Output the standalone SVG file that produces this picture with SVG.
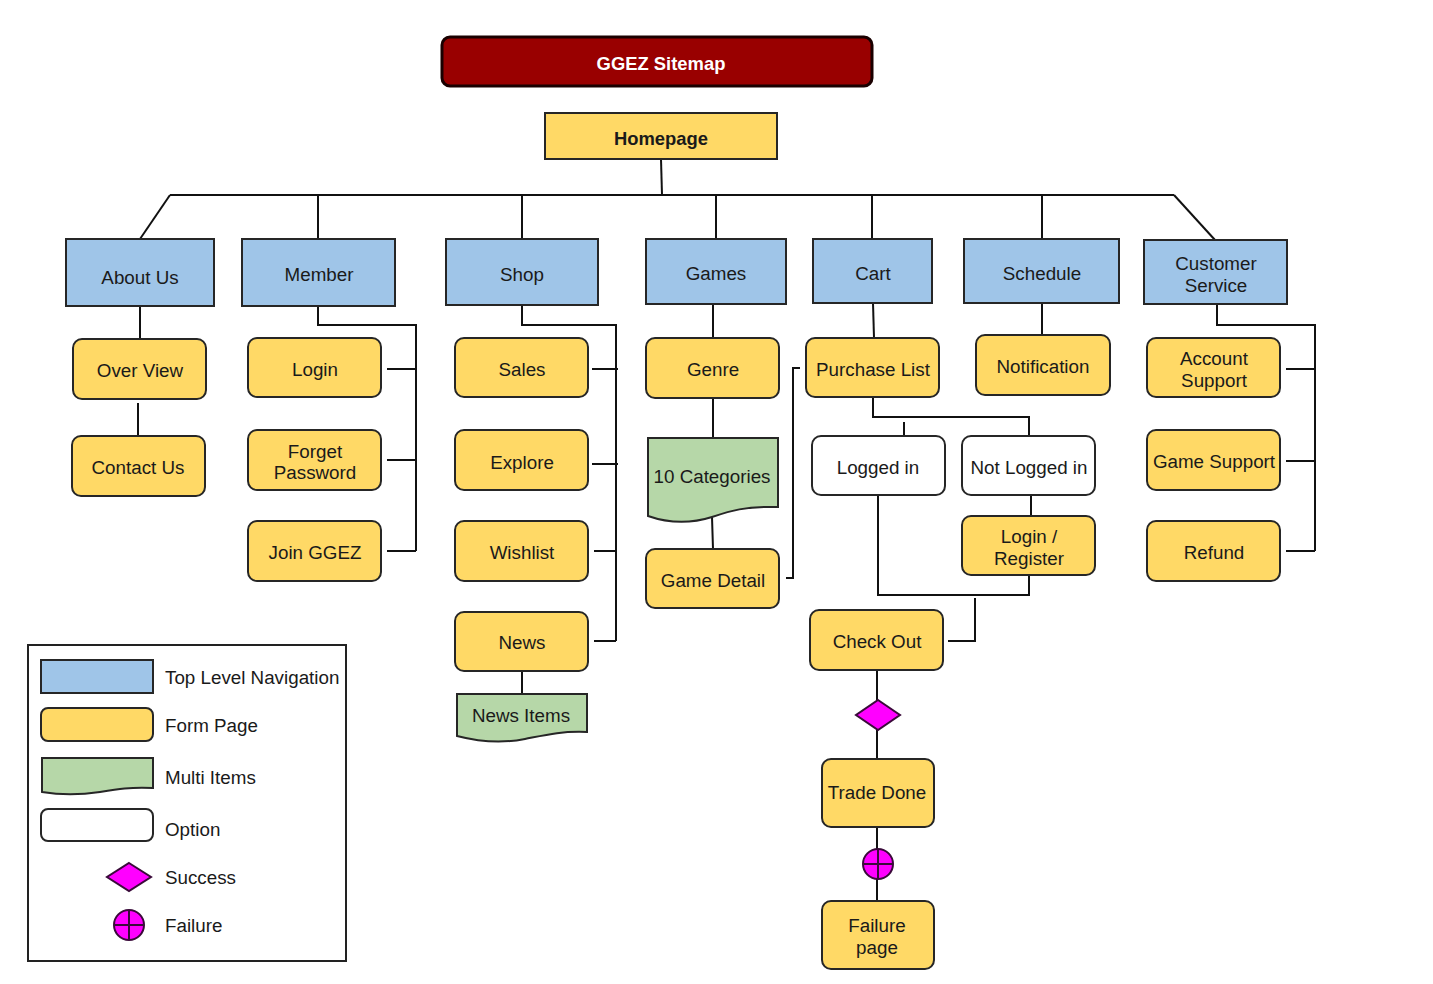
<svg xmlns="http://www.w3.org/2000/svg" width="1433" height="984" viewBox="0 0 1433 984">
<style>
text{font-family:"Liberation Sans",Arial,sans-serif;font-size:18.8px;fill:#1a1a1a;text-anchor:middle;dominant-baseline:central}
.b{font-weight:bold;font-size:18.4px}
.nav{fill:#9fc5e8;stroke:#262626;stroke-width:2}
.form{fill:#ffd966;stroke:#262626;stroke-width:2}
.multi{fill:#b6d7a8;stroke:#262626;stroke-width:2}
.opt{fill:#ffffff;stroke:#262626;stroke-width:2}
.ok{fill:#ff00ff;stroke:#3a0a3a;stroke-width:2}
.c{fill:none;stroke:#111;stroke-width:2}
.lg{text-anchor:start}
</style>
<rect width="1433" height="984" fill="#ffffff"/>

<g id="connectors" class="c">
<path d="M661,159 L662,195"/>
<path d="M170,195 H1174"/>
<path d="M170,195 L140,239"/>
<path d="M1174,195 L1215,240"/>
<path d="M318,195 V239 M522,195 V239 M716,195 V239 M872,195 V239 M1042,195 V239"/>
<path d="M140,306 V339 M138,403 V436"/>
<path d="M318,306 V325 H416 V551 M387,369 H416 M387,460 H416 M387,551 H416"/>
<path d="M522,305 V325 H616 V641 M592,369 H618 M592,464 H618 M594,551 H616 M594,641 H616"/>
<path d="M522,671 V694"/>
<path d="M713,304 V338 M713,398 V438 M712,517 L713,549"/>
<path d="M786,578 H793 V368 H800"/>
<path d="M873,303 L874,338"/>
<path d="M873,397 V417 H1029 V442 M904,422 V438"/>
<path d="M1031,493 V516"/>
<path d="M878,491 V595 H1029 V572"/>
<path d="M975,598 V641 H948"/>
<path d="M877,670 V700 M877,730 V759 M877,827 V849 M877,879 V901"/>
<path d="M1042,303 V335"/>
<path d="M1217,304 V325 H1315 V551 M1286,369 H1315 M1286,461 H1315 M1286,551 H1315"/>
</g>

<g id="title">
<rect x="442" y="37" width="430" height="49" rx="8" fill="#990000" stroke="#1a0000" stroke-width="3"/>
<text class="b" x="661" y="63" style="fill:#ffffff">GGEZ Sitemap</text>
</g>
<g id="homepage">
<rect class="form" x="545" y="113" width="232" height="46"/>
<text class="b" x="661" y="138">Homepage</text>
</g>

<g id="about-us"><rect class="nav" x="66" y="239" width="148" height="67"/><text x="140" y="277">About Us</text></g>
<g id="member"><rect class="nav" x="242" y="239" width="153" height="67"/><text x="319" y="274">Member</text></g>
<g id="shop"><rect class="nav" x="446" y="239" width="152" height="66"/><text x="522" y="274">Shop</text></g>
<g id="games"><rect class="nav" x="646" y="239" width="140" height="65"/><text x="716" y="273">Games</text></g>
<g id="cart"><rect class="nav" x="813" y="239" width="119" height="64"/><text x="873" y="273">Cart</text></g>
<g id="schedule"><rect class="nav" x="964" y="239" width="155" height="64"/><text x="1042" y="273">Schedule</text></g>
<g id="customer-service"><rect class="nav" x="1144" y="240" width="143" height="64"/><text x="1216" y="263">Customer</text><text x="1216" y="285">Service</text></g>

<g id="over-view"><rect class="form" x="73" y="339" width="133" height="60" rx="9"/><text x="140" y="370">Over View</text></g>
<g id="contact-us"><rect class="form" x="72" y="436" width="133" height="60" rx="9"/><text x="138" y="467">Contact Us</text></g>
<g id="login"><rect class="form" x="248" y="338" width="133" height="59" rx="9"/><text x="315" y="369">Login</text></g>
<g id="forget-password"><rect class="form" x="248" y="430" width="133" height="60" rx="9"/><text x="315" y="451">Forget</text><text x="315" y="472">Password</text></g>
<g id="join-ggez"><rect class="form" x="248" y="521" width="133" height="60" rx="9"/><text x="315" y="552">Join GGEZ</text></g>

<g id="sales"><rect class="form" x="455" y="338" width="133" height="59" rx="9"/><text x="522" y="369">Sales</text></g>
<g id="explore"><rect class="form" x="455" y="430" width="133" height="60" rx="9"/><text x="522" y="462">Explore</text></g>
<g id="wishlist"><rect class="form" x="455" y="521" width="133" height="60" rx="9"/><text x="522" y="552">Wishlist</text></g>
<g id="news"><rect class="form" x="455" y="612" width="133" height="59" rx="9"/><text x="522" y="642">News</text></g>
<g id="news-items"><path class="multi" d="M457,694 H587 V732 C560,731 545,735 525,739 C505,743 480,742 457,736 Z"/><text x="521" y="715">News Items</text></g>

<g id="genre"><rect class="form" x="646" y="338" width="133" height="60" rx="9"/><text x="713" y="369">Genre</text></g>
<g id="ten-categories"><path class="multi" d="M648,438 H778 V507 C745,506 730,511 712,517 C690,524 668,523 648,516 Z"/><text x="712" y="476">10 Categories</text></g>
<g id="game-detail"><rect class="form" x="646" y="549" width="133" height="59" rx="9"/><text x="713" y="580">Game Detail</text></g>

<g id="purchase-list"><rect class="form" x="806" y="338" width="133" height="59" rx="9"/><text x="873" y="369">Purchase List</text></g>
<g id="logged-in"><rect class="opt" x="812" y="436" width="133" height="59" rx="9"/><text x="878" y="467">Logged in</text></g>
<g id="not-logged-in"><rect class="opt" x="962" y="436" width="133" height="59" rx="9"/><text x="1029" y="467">Not Logged in</text></g>
<g id="login-register"><rect class="form" x="962" y="516" width="133" height="59" rx="9"/><text x="1029" y="536">Login /</text><text x="1029" y="558">Register</text></g>
<g id="check-out"><rect class="form" x="810" y="610" width="133" height="60" rx="9"/><text x="877" y="641">Check Out</text></g>
<g id="success"><path class="ok" d="M878,700 L900,715 L878,730 L856,715 Z"/></g>
<g id="trade-done"><rect class="form" x="822" y="759" width="112" height="68" rx="9"/><text x="877" y="792">Trade Done</text></g>
<g id="failure"><circle class="ok" cx="878" cy="864" r="15"/><path d="M863,864 H893 M878,849 V879" stroke="#3a0a3a" stroke-width="2"/></g>
<g id="failure-page"><rect class="form" x="822" y="901" width="112" height="68" rx="9"/><text x="877" y="925">Failure</text><text x="877" y="947">page</text></g>

<g id="notification"><rect class="form" x="976" y="335" width="134" height="60" rx="9"/><text x="1043" y="366">Notification</text></g>

<g id="account-support"><rect class="form" x="1147" y="338" width="133" height="59" rx="9"/><text x="1214" y="358">Account</text><text x="1214" y="380">Support</text></g>
<g id="game-support"><rect class="form" x="1147" y="430" width="133" height="60" rx="9"/><text x="1214" y="461">Game Support</text></g>
<g id="refund"><rect class="form" x="1147" y="521" width="133" height="60" rx="9"/><text x="1214" y="552">Refund</text></g>

<g id="legend">
<rect x="28" y="645" width="318" height="316" fill="#ffffff" stroke="#222" stroke-width="2"/>
<rect class="nav" x="41" y="660" width="112" height="33"/>
<rect class="form" x="41" y="708" width="112" height="33" rx="7"/>
<path class="multi" d="M42,758 H153 V788 C130,787 118,789 100,792 C80,795 60,795 42,792 Z"/>
<rect class="opt" x="41" y="809" width="112" height="32" rx="7"/>
<path class="ok" d="M129,863 L151,877 L129,891 L107,877 Z"/>
<circle class="ok" cx="129" cy="925" r="15"/>
<path d="M114,925 H144 M129,910 V940" stroke="#3a0a3a" stroke-width="2"/>
<text class="lg" x="165" y="677">Top Level Navigation</text>
<text class="lg" x="165" y="725">Form Page</text>
<text class="lg" x="165" y="777">Multi Items</text>
<text class="lg" x="165" y="829">Option</text>
<text class="lg" x="165" y="877">Success</text>
<text class="lg" x="165" y="925">Failure</text>
</g>
</svg>
